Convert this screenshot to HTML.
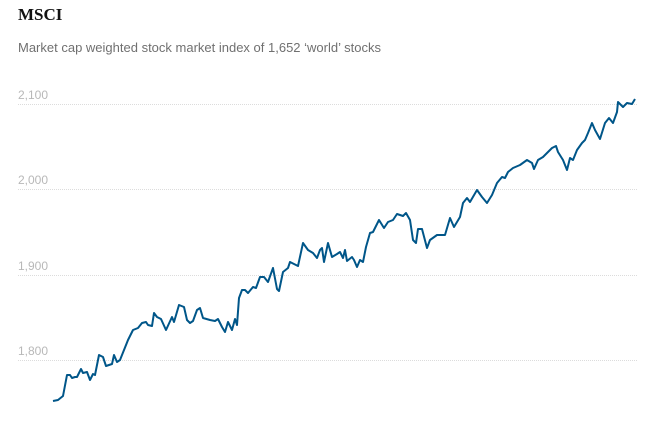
<!DOCTYPE html>
<html><head><meta charset="utf-8"><style>
body{margin:0;background:#fff;width:661px;height:430px;overflow:hidden;font-family:"Liberation Sans",sans-serif}
</style></head><body>
<svg width="661" height="430" xmlns="http://www.w3.org/2000/svg">
<text x="18" y="20" font-family="Liberation Serif,serif" font-weight="bold" font-size="17" fill="#121212">MSCI</text>
<text x="18" y="52" font-size="13" fill="#707070">Market cap weighted stock market index of 1,652 ‘world’ stocks</text>
<g stroke="#dcdcdc" stroke-width="1" stroke-dasharray="1,1">
<line x1="18" x2="638" y1="104.5" y2="104.5"/><line x1="18" x2="638" y1="189.5" y2="189.5"/>
<line x1="18" x2="638" y1="275.5" y2="275.5"/><line x1="18" x2="638" y1="360.5" y2="360.5"/>
</g>
<g font-size="12" fill="#b8b8b8">
<text x="18" y="99">2,100</text><text x="18" y="184">2,000</text><text x="18" y="270">1,900</text><text x="18" y="355">1,800</text>
</g>
<polyline fill="none" stroke="#005689" stroke-width="2" stroke-linejoin="round" points="53,401 58,400 63,396 67,375 70,375 72,378 75,377 77,377 81,369 83,373 87,372 90,380 93,374 95,375 99,355 103,357 106,366 112,364 114,355 117,362 120,360 128,340 133,330 138,328 142,323 146,322 148,325 152,326 154,313 157,317 161,319 166,330 172,317 174,322 179,305 184,307 187,320 190,323 193,321 197,310 200,308 203,318 210,320 215,321 218,319 222,327 225,332 228,322 232,330 235,319 237,325 239,298 242,290 245,290 248,293 253,287 256,288 260,277 264,277 268,282 273,268 277,289 279,291 283,272 288,268 290,262 294,264 298,266 303,243 308,250 313,253 317,258 320,250 322,248 324,262 328,243 332,257 337,254 340,252 343,258 345,250 347,261 352,257 354,260 357,267 360,260 363,262 366,247 370,233 373,232 379,220 384,228 388,222 393,220 397,214 403,216 406,213 410,220 413,240 416,243 418,229 422,229 427,248 430,240 437,235 445,235 450,218 454,227 460,217 463,203 467,198 470,202 477,190 482,197 487,203 492,195 497,183 502,177 505,178 508,172 513,168 520,165 527,160 532,163 534,169 538,160 543,157 552,148 556,146 558,152 563,160 567,170 570,158 573,160 577,150 582,143 585,140 588,133 592,123 595,130 600,139 605,123 609,118 613,123 617,112 618,102 623,107 627,103 632,104 635,99"/>
</svg>
</body></html>
